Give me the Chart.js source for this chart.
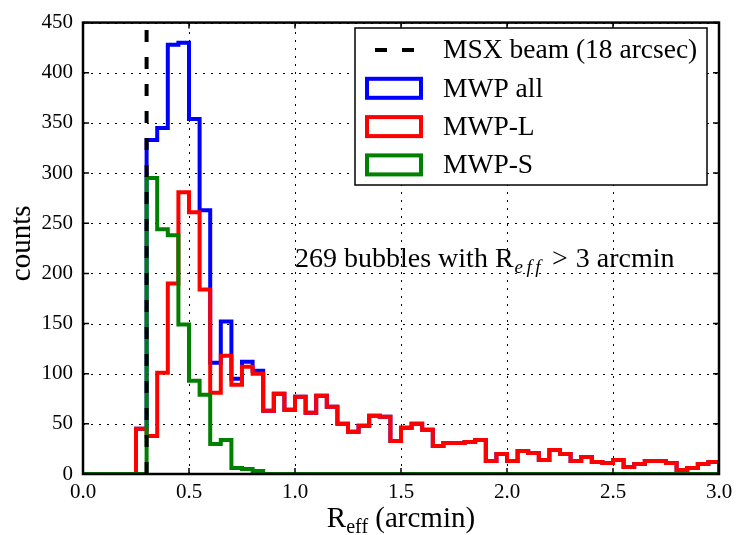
<!DOCTYPE html>
<html>
<head>
<meta charset="utf-8">
<script src="https://cdn.jsdelivr.net/npm/chart.js"></script>
<style>
  html, body { margin: 0; padding: 0; background: #fff; }
  #wrap { width: 746px; height: 535px; }
</style>
</head>
<body>
<div id="wrap"><canvas id="c" width="746" height="535"></canvas></div>
<script>
// Histogram bin edges (arcmin), 0.05 arcmin wide
const binEdges = [
  0.00, 0.05, 0.10, 0.15, 0.20, 0.25, 0.30, 0.35, 0.40, 0.45,
  0.50, 0.55, 0.60, 0.65, 0.70, 0.75, 0.80, 0.85, 0.90, 0.95,
  1.00, 1.05, 1.10, 1.15, 1.20, 1.25, 1.30, 1.35, 1.40, 1.45,
  1.50, 1.55, 1.60, 1.65, 1.70, 1.75, 1.80, 1.85, 1.90, 1.95,
  2.00, 2.05, 2.10, 2.15, 2.20, 2.25, 2.30, 2.35, 2.40, 2.45,
  2.50, 2.55, 2.60, 2.65, 2.70, 2.75, 2.80, 2.85, 2.90, 2.95,
  3.00
];

// Counts per bin
const countsAll = [
  0, 0, 0, 0, 0, 45, 333, 345, 428, 430,
  354, 263, 111, 152, 95, 112, 103, 63, 80, 64,
  77, 61, 78, 67, 50, 42, 48, 58, 57, 33,
  46, 50, 44, 28, 31, 31, 32, 34, 13, 20,
  13, 23, 21, 14, 24, 20, 13, 17, 12, 11,
  14, 7, 10, 13, 13, 11, 4, 6, 10, 12
];
const countsL = [
  0, 0, 0, 0, 0, 45, 38, 101, 190, 281,
  261, 184, 81, 118, 89, 107, 100, 63, 80, 64,
  77, 61, 78, 67, 50, 42, 48, 58, 57, 33,
  46, 50, 44, 28, 31, 31, 32, 34, 13, 20,
  13, 23, 21, 14, 24, 20, 13, 17, 12, 11,
  14, 7, 10, 13, 13, 11, 4, 6, 10, 12
];
const countsS = [
  0, 0, 0, 0, 0, 0, 295, 244, 238, 149,
  93, 79, 30, 34, 6, 5, 3, 0, 0, 0,
  0, 0, 0, 0, 0, 0, 0, 0, 0, 0,
  0, 0, 0, 0, 0, 0, 0, 0, 0, 0,
  0, 0, 0, 0, 0, 0, 0, 0, 0, 0,
  0, 0, 0, 0, 0, 0, 0, 0, 0, 0
];

// MSX beam: 18 arcsec = 0.3 arcmin
const beamRadius = 0.3;

const xTicks = [0.0, 0.5, 1.0, 1.5, 2.0, 2.5, 3.0];
const yTicks = [0, 50, 100, 150, 200, 250, 300, 350, 400, 450];

const seriesNames = ['MSX beam (18 arcsec)', 'MWP all', 'MWP-L', 'MWP-S'];
const seriesColors = ['#000000', '#0000ff', '#ff0000', '#008000'];

const serif = "'Liberation Serif', 'Times New Roman', 'DejaVu Serif', serif";
Chart.defaults.font.family = serif;
Chart.defaults.color = '#000';

const legendFont = 27.5;
const noteFont = 28;
const titleFont = 29;
const subFont = 19;

// histogram outline: one point per left bin edge, closing back to zero at the last edge
function stepPoints(counts) {
  return binEdges.map((e, i) => ({ x: e, y: i < counts.length ? counts[i] : 0 }));
}

const stepStyle = {
  borderWidth: 4,
  pointRadius: 0,
  fill: false,
  stepped: 'before',
  borderJoinStyle: 'miter',
  borderCapStyle: 'butt',
  clip: 0
};

const decor = {
  id: 'decor',
  beforeDatasetsDraw(chart) {
    const { ctx, chartArea: a, scales: { x, y } } = chart;
    ctx.save();
    ctx.strokeStyle = '#000';
    ctx.lineWidth = 1;
    ctx.setLineDash([2, 6]);
    xTicks.forEach(v => {
      const px = Math.round(x.getPixelForValue(v)) + 0.5;
      ctx.beginPath(); ctx.moveTo(px, a.bottom); ctx.lineTo(px, a.top); ctx.stroke();
    });
    yTicks.forEach(v => {
      const py = Math.round(y.getPixelForValue(v)) + 0.5;
      ctx.beginPath(); ctx.moveTo(a.left, py); ctx.lineTo(a.right, py); ctx.stroke();
    });
    ctx.restore();
  },
  afterDatasetsDraw(chart) {
    const { ctx, chartArea: a, scales: { x, y } } = chart;
    ctx.save();

    // inward tick marks on all four sides
    ctx.strokeStyle = '#000';
    ctx.lineWidth = 1.5;
    const tl = 6;
    xTicks.forEach(v => {
      const px = x.getPixelForValue(v);
      ctx.beginPath();
      ctx.moveTo(px, a.bottom); ctx.lineTo(px, a.bottom - tl);
      ctx.moveTo(px, a.top); ctx.lineTo(px, a.top + tl);
      ctx.stroke();
    });
    yTicks.forEach(v => {
      const py = y.getPixelForValue(v);
      ctx.beginPath();
      ctx.moveTo(a.left, py); ctx.lineTo(a.left + tl, py);
      ctx.moveTo(a.right, py); ctx.lineTo(a.right - tl, py);
      ctx.stroke();
    });

    // axes frame
    ctx.lineWidth = 2.5;
    ctx.strokeRect(a.left, a.top, a.right - a.left, a.bottom - a.top);

    // annotation
    ctx.fillStyle = '#000';
    ctx.textBaseline = 'alphabetic';
    ctx.textAlign = 'left';
    let tx = x.getPixelForValue(1.0);
    const ty = 267;
    ctx.font = noteFont + 'px ' + serif;
    const part1 = '269 bubbles with R';
    ctx.fillText(part1, tx, ty);
    tx += ctx.measureText(part1).width + 1;
    ctx.font = 'italic ' + subFont + 'px ' + serif;
    ['e', 'f', 'f'].forEach(ch => {
      ctx.fillText(ch, tx, ty + 6);
      tx += ctx.measureText(ch).width + 3.5;
    });
    ctx.font = noteFont + 'px ' + serif;
    tx += 8;
    ctx.fillText('>', tx, ty);
    tx += ctx.measureText('>').width + 8;
    ctx.fillText('3 arcmin', tx, ty);

    // x-axis title
    ctx.font = titleFont + 'px ' + serif;
    const wR = ctx.measureText('R').width;
    const wRest = ctx.measureText(' (arcmin)').width;
    ctx.font = (subFont + 1) + 'px ' + serif;
    const wSub = ctx.measureText('eff').width;
    const total = wR + wSub + wRest;
    let xx = (a.left + a.right) / 2 - total / 2;
    const xb = 527;
    ctx.font = titleFont + 'px ' + serif;
    ctx.fillText('R', xx, xb); xx += wR;
    ctx.font = (subFont + 1) + 'px ' + serif;
    ctx.fillText('eff', xx, xb + 6); xx += wSub;
    ctx.font = titleFont + 'px ' + serif;
    ctx.fillText(' (arcmin)', xx, xb);

    // y-axis title
    ctx.save();
    ctx.translate(22, (a.top + a.bottom) / 2 - 5);
    ctx.rotate(-Math.PI / 2);
    ctx.textAlign = 'center';
    ctx.textBaseline = 'middle';
    ctx.font = titleFont + 'px ' + serif;
    ctx.fillText('counts', 0, 0);
    ctx.restore();

    // legend
    const lg = { left: 355, top: 28, right: 707, bottom: 185 };
    ctx.setLineDash([]);
    ctx.fillStyle = '#fff';
    ctx.fillRect(lg.left, lg.top, lg.right - lg.left, lg.bottom - lg.top);
    ctx.lineWidth = 1.5;
    ctx.strokeStyle = '#000';
    ctx.strokeRect(lg.left, lg.top, lg.right - lg.left, lg.bottom - lg.top);
    ctx.font = legendFont + 'px ' + serif;
    ctx.textBaseline = 'middle';
    ctx.textAlign = 'left';
    seriesNames.forEach((name, i) => {
      const cy = lg.top + 22 + i * 38.3;
      ctx.strokeStyle = seriesColors[i];
      ctx.lineWidth = 4;
      if (i === 0) {
        ctx.setLineDash([12, 15]);
        ctx.beginPath(); ctx.moveTo(375, cy); ctx.lineTo(422, cy); ctx.stroke();
        ctx.setLineDash([]);
      } else {
        ctx.strokeRect(367, cy - 9.5, 54, 19);
      }
      ctx.fillStyle = '#000';
      ctx.fillText(name, 443, cy + 1);
    });

    ctx.restore();
  }
};

new Chart(document.getElementById('c'), {
  type: 'line',
  data: {
    datasets: [
      {
        label: seriesNames[0],
        data: [{ x: beamRadius, y: yTicks[0] }, { x: beamRadius, y: yTicks[yTicks.length - 1] }],
        borderColor: seriesColors[0],
        borderWidth: 4,
        borderDash: [12, 15],
        pointRadius: 0,
        fill: false,
        clip: 0,
        order: 0
      },
      { label: seriesNames[1], data: stepPoints(countsAll), borderColor: seriesColors[1], ...stepStyle, order: 3 },
      { label: seriesNames[2], data: stepPoints(countsL), borderColor: seriesColors[2], ...stepStyle, order: 2 },
      { label: seriesNames[3], data: stepPoints(countsS), borderColor: seriesColors[3], ...stepStyle, order: 1 }
    ]
  },
  options: {
    responsive: false,
    animation: false,
    events: [],
    layout: { autoPadding: false, padding: { left: 0, right: 27, top: 15, bottom: 0 } },
    plugins: { legend: { display: false }, tooltip: { enabled: false } },
    scales: {
      x: {
        type: 'linear',
        min: 0,
        max: 3,
        afterBuildTicks: s => { s.ticks = xTicks.map(v => ({ value: v })); },
        afterFit: s => { s.height = 61; },
        grid: { display: false, drawTicks: false },
        border: { display: false },
        ticks: {
          font: { size: 21 },
          color: '#000',
          padding: 6,
          maxRotation: 0,
          autoSkip: false,
          callback: v => Number(v).toFixed(1)
        }
      },
      y: {
        type: 'linear',
        min: 0,
        max: 450,
        afterBuildTicks: s => { s.ticks = yTicks.map(v => ({ value: v })); },
        afterFit: s => { s.width = 83; },
        grid: { display: false, drawTicks: false },
        border: { display: false },
        ticks: {
          font: { size: 21 },
          color: '#000',
          padding: 10,
          autoSkip: false,
          callback: v => String(v)
        }
      }
    }
  },
  plugins: [decor]
});
</script>
</body>
</html>
